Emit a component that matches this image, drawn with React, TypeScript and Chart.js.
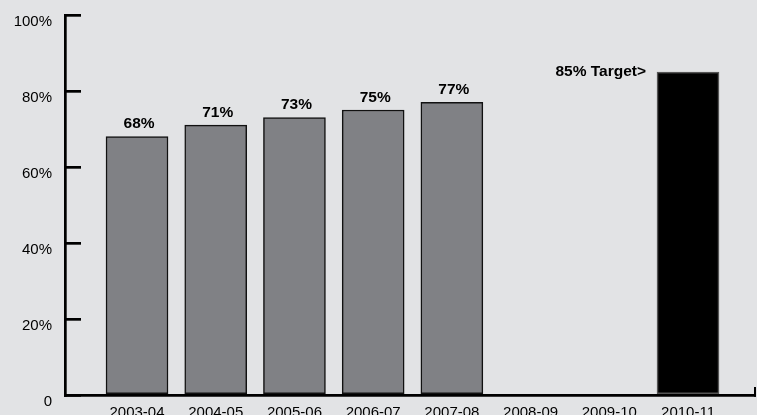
import React, { useEffect, useRef } from 'react'
import { Chart, registerables } from 'chart.js'

Chart.register(...registerables)

const categories = ['2003-04', '2004-05', '2005-06', '2006-07', '2007-08', '2008-09', '2009-10', '2010-11']
const values = [68, 71, 73, 75, 77, 0, 0, 85]
const barLabels = ['68%', '71%', '73%', '75%', '77%', '', '', '85% Target>']
const barColors = ['#808185', '#808185', '#808185', '#808185', '#808185', '#808185', '#808185', '#000000']
const yTicks = [0, 20, 40, 60, 80, 100]
const targetIndex = 7

const FONT = '"Liberation Sans", Arial, Helvetica, sans-serif'
// linear x so the first bar can sit well clear of the y axis
const X_MIN = -0.915
const X_MAX = 7.851

// keep tick label sizes from pushing the chart area around
const noPadding = (scale: any) => {
  scale.paddingLeft = 0
  scale.paddingRight = 0
  scale.paddingTop = 0
  scale.paddingBottom = 0
}

const barLabelPlugin = {
  id: 'barLabels',
  afterDatasetsDraw(chart: any) {
    const ctx = chart.ctx
    const meta = chart.getDatasetMeta(0)
    ctx.save()
    ctx.fillStyle = '#000'
    ctx.font = `bold 15.5px ${FONT}`
    meta.data.forEach((el: any, i: number) => {
      const text = barLabels[i]
      if (!text) return
      if (i === targetIndex) {
        ctx.textAlign = 'right'
        ctx.textBaseline = 'middle'
        ctx.fillText(text, el.x - el.width / 2 - 11, el.y)
      } else {
        ctx.textAlign = 'center'
        ctx.textBaseline = 'bottom'
        ctx.fillText(text, el.x + 2, el.y - 5)
      }
    })
    ctx.restore()
  }
}

const BarChart: React.FC = () => {
  const canvasRef = useRef<HTMLCanvasElement>(null)

  useEffect(() => {
    if (!canvasRef.current) return

    const chart = new Chart(canvasRef.current, {
      type: 'bar',
      data: {
        datasets: [
          {
            data: categories.map((_, i) => ({ x: i, y: values[i] })),
            backgroundColor: barColors,
            borderColor: barColors.map(c => (c === '#000000' ? '#555' : '#111')),
            borderWidth: 1.5,
            borderSkipped: false,
            barThickness: 62
          }
        ]
      },
      options: {
        responsive: false,
        animation: false,
        layout: { padding: { top: 15, right: 2, left: 0, bottom: 0 } },
        plugins: {
          legend: { display: false },
          tooltip: { enabled: false }
        },
        scales: {
          x: {
            type: 'linear',
            min: X_MIN,
            max: X_MAX,
            offset: false,
            afterBuildTicks: (scale: any) => {
              scale.ticks = [...categories.map((_, i) => ({ value: i })), { value: X_MAX }]
            },
            afterFit: (scale: any) => {
              scale.height = 20
              noPadding(scale)
            },
            border: { display: true, color: '#000', width: 2.7 },
            grid: {
              offset: false,
              drawOnChartArea: false,
              tickLength: -8,
              lineWidth: 2,
              color: (ctx: any) => (ctx.tick && ctx.tick.value === X_MAX ? '#000' : 'rgba(0,0,0,0)')
            },
            ticks: {
              autoSkip: false,
              maxRotation: 0,
              padding: 17,
              color: '#000',
              font: { family: FONT, size: 15 },
              callback: (value: any) => categories[value as number] ?? ''
            }
          },
          y: {
            min: 0,
            max: 100,
            afterBuildTicks: (scale: any) => {
              scale.ticks = yTicks.map(v => ({ value: v }))
            },
            afterFit: (scale: any) => {
              scale.width = 65
              noPadding(scale)
            },
            border: { display: true, color: '#000', width: 2.7 },
            grid: {
              drawOnChartArea: false,
              tickLength: -16,
              lineWidth: 2.7,
              color: '#000'
            },
            ticks: {
              padding: 29,
              labelOffset: 7,
              color: '#000',
              font: { family: FONT, size: 15 },
              callback: (value: any) => (value === 0 ? '0' : `${value}%`)
            }
          }
        }
      },
      plugins: [barLabelPlugin]
    } as any)

    return () => {
      chart.destroy()
    }
  }, [])

  return (
    <div style={{ position: 'fixed', left: 0, top: 0, width: 757, height: 415, background: '#e2e3e5' }}>
      <canvas ref={canvasRef} width={757} height={415} style={{ display: 'block' }} />
    </div>
  )
}

export default function App() {
  return <BarChart />
}
